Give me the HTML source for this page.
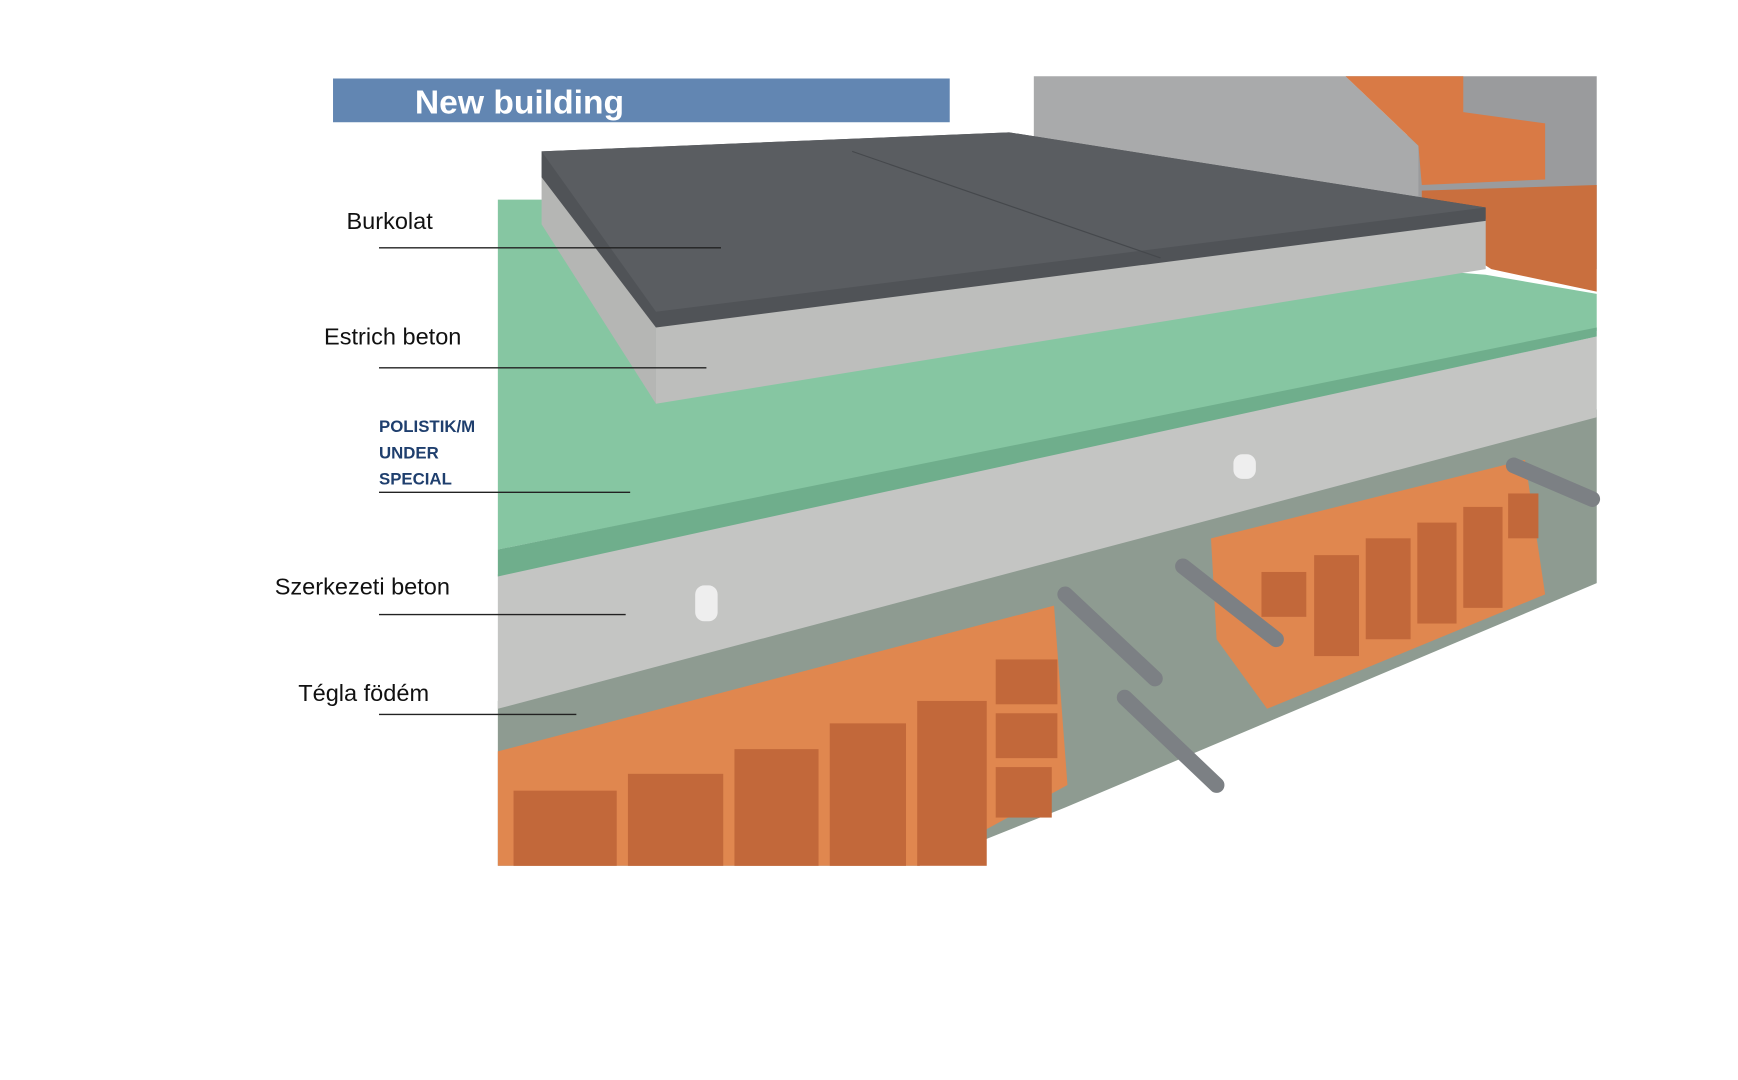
<!DOCTYPE html>
<html><head><meta charset="utf-8"><style>html,body{margin:0;padding:0;background:#fff}svg{display:block}</style></head>
<body>
<svg width="1738" height="1080" viewBox="0 0 1550 963" preserveAspectRatio="none" xmlns="http://www.w3.org/2000/svg">
<rect width="1550" height="963" fill="#fff"/>
<!-- wall back -->
<polygon points="922,68 1424,68 1424,240 1265,180 1255,120 1200,68" fill="#9a9b9d"/>
<polygon points="922,68 1200,68 1265,130 1265,180 922,130" fill="#a9aaab"/>
<polygon points="1200,68 1305,68 1305,100 1378,110 1378,160 1268,165 1265,130" fill="#d97a45"/>
<polygon points="1268,170 1424,165 1424,260 1330,240 1268,200" fill="#c96f3e"/>
<!-- base below -->
<polygon points="444,625 1424,365 1424,520 950,720 820,772 444,772" fill="#8e9b91"/>
<!-- structural concrete -->
<polygon points="444,512 1424,300 1424,372 444,632" fill="#c4c5c3"/>
<!-- green -->
<polygon points="444,178 483,178 1325,245 1424,262 1424,295 444,490" fill="#86c6a2"/>
<polygon points="444,490 1424,292 1424,300 444,514" fill="#6fae8c"/>
<!-- screed -->
<polygon points="483,140 585,290 585,360 483,200" fill="#b5b6b4"/>
<polygon points="585,290 1325,195 1325,240 585,360" fill="#bdbebc"/>
<!-- tile -->
<polygon points="483,135 900,118 1325,185 1325,197 585,292 483,158" fill="#505357"/>
<polygon points="483,135 900,118 1325,185 585,278" fill="#5a5d61"/>
<line x1="760" y1="135" x2="1035" y2="230" stroke="#45484c" stroke-width="1"/>
<!-- bricks -->
<polygon points="444,670 940,540 952,700 820,772 444,772" fill="#e0874f"/>
<g fill="#c2683a">
<rect x="458" y="705" width="92" height="67"/><rect x="560" y="690" width="85" height="82"/>
<rect x="655" y="668" width="75" height="104"/><rect x="740" y="645" width="68" height="127"/>
<rect x="818" y="625" width="62" height="147"/><rect x="888" y="588" width="55" height="40"/>
<rect x="888" y="636" width="55" height="40"/><rect x="888" y="684" width="50" height="45"/>
</g>
<polygon points="1080,480 1360,410 1378,530 1130,632 1085,570" fill="#e0874f"/>
<g fill="#c2683a">
<rect x="1125" y="510" width="40" height="40"/><rect x="1172" y="495" width="40" height="90"/>
<rect x="1218" y="480" width="40" height="90"/><rect x="1264" y="466" width="35" height="90"/>
<rect x="1305" y="452" width="35" height="90"/><rect x="1345" y="440" width="27" height="40"/>
</g>
<!-- rods -->
<g stroke="#7c8084" stroke-width="14" stroke-linecap="round">
<line x1="950" y1="530" x2="1030" y2="605"/><line x1="1003" y1="622" x2="1085" y2="700"/>
<line x1="1055" y1="505" x2="1138" y2="570"/><line x1="1350" y1="415" x2="1420" y2="445"/>
</g>
<rect x="620" y="522" width="20" height="32" rx="8" fill="#eee"/>
<rect x="1100" y="405" width="20" height="22" rx="8" fill="#eee"/>
<!-- header -->
<rect x="297" y="70" width="550" height="39" fill="#6286b2"/>
<text x="370" y="101" font-family="Liberation Sans, sans-serif" font-size="30" font-weight="bold" fill="#fff">New building</text>
<!-- labels -->
<g font-family="Liberation Sans, sans-serif" font-size="21" fill="#111">
<text x="309" y="204">Burkolat</text>
<text x="289" y="307">Estrich beton</text>
<text x="245" y="530">Szerkezeti beton</text>
<text x="266" y="625">Tégla födém</text>
</g>
<g font-family="Liberation Sans, sans-serif" font-size="15" font-weight="bold" fill="#1f3f6e">
<text x="338" y="385">POLISTIK/M</text>
<text x="338" y="409">UNDER</text>
<text x="338" y="432">SPECIAL</text>
</g>
<g stroke="#222" stroke-width="1.2">
<line x1="338" y1="221" x2="643" y2="221"/>
<line x1="338" y1="328" x2="630" y2="328"/>
<line x1="338" y1="439" x2="562" y2="439"/>
<line x1="338" y1="548" x2="558" y2="548"/>
<line x1="338" y1="637" x2="514" y2="637"/>
</g>
</svg>
</body></html>
